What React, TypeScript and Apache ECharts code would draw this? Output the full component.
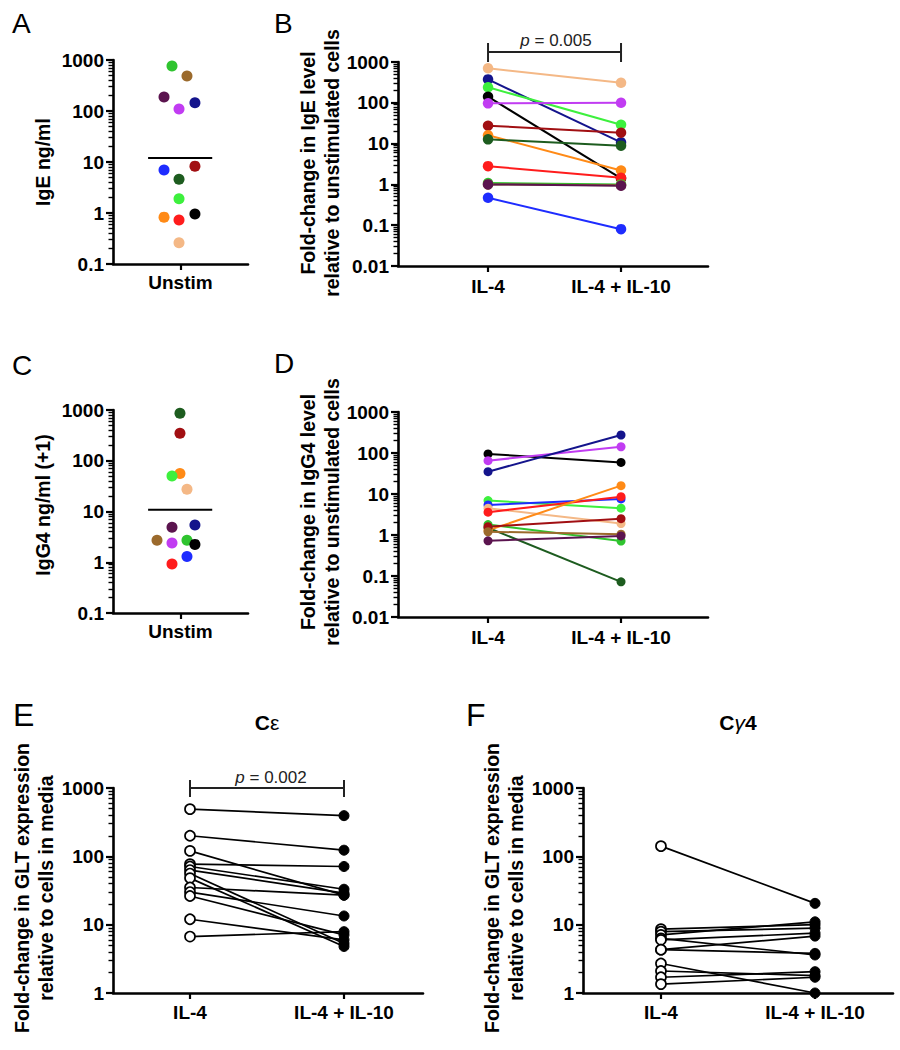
import React, { useEffect, useRef } from 'react';
import * as echarts from 'echarts';

const FONT = "'Liberation Sans', Arial, Helvetica, sans-serif";

const COLOR: Record<string, string> = {
  peach: '#f4b886',
  navy: '#14148c',
  lime: '#3df03d',
  green: '#2fc42f',
  black: '#000000',
  purple: '#c13cf2',
  dkred: '#a10f12',
  orange: '#ff8a16',
  dkgreen: '#1d5c1f',
  red: '#ff1c1c',
  dkpurple: '#5b144f',
  blue: '#1e2cff',
  brown: '#9b6a2c',
};

// ---- Panel A: IgE ng/ml, unstimulated ----
const aDonors = ['green', 'brown', 'dkpurple', 'purple', 'navy', 'blue', 'dkred', 'dkgreen', 'lime', 'orange', 'red', 'black', 'peach'];
const aIgE = [760, 485, 188, 110, 145, 7.0, 8.3, 4.6, 1.9, 0.83, 0.73, 0.96, 0.26];
const aJitter = [0.437, 0.548, 0.378, 0.489, 0.607, 0.378, 0.607, 0.489, 0.489, 0.378, 0.489, 0.607, 0.489];
const aMean = 12;

// ---- Panel C: IgG4 ng/ml (+1), unstimulated ----
const cDonors = ['dkgreen', 'dkred', 'orange', 'lime', 'peach', 'dkpurple', 'navy', 'brown', 'purple', 'green', 'black', 'blue', 'red'];
const cIgG4 = [860, 347, 56, 50, 27.5, 4.9, 5.4, 2.7, 2.4, 2.7, 2.25, 1.3, 0.92];
const cJitter = [0.496, 0.496, 0.496, 0.437, 0.548, 0.437, 0.607, 0.326, 0.437, 0.548, 0.607, 0.548, 0.437];
const cMean = 10.8;

const meanSpan = [0.26, 0.735];
const unstimCategory = ['Unstim'];

// ---- Panel B: fold-change IgE ----
const pairCategories = ['IL-4', 'IL-4 + IL-10'];
const bDonors = ['peach', 'navy', 'lime', 'black', 'purple', 'dkred', 'orange', 'dkgreen', 'red', 'green', 'brown', 'dkpurple', 'blue'];
const bIL4 = [700, 375, 240, 141, 97, 27.5, 16, 12.7, 2.8, 1.08, 1.0, 1.0, 0.47];
const bIL4IL10 = [310, 10.7, 29, 1.4, 100, 18.5, 2.2, 8.9, 1.45, 1.0, 0.95, 0.93, 0.08];
const bBracket = { low: 1000, bar: 1760, high: 2930 };

// ---- Panel D: fold-change IgG4 ----
const dDonors = ['black', 'purple', 'navy', 'lime', 'blue', 'peach', 'red', 'green', 'dkgreen', 'orange', 'dkred', 'brown', 'dkpurple'];
const dIL4 = [95, 65, 35, 6.9, 5.4, 4.5, 3.6, 1.8, 1.5, 1.3, 1.6, 1.2, 0.72];
const dIL4IL10 = [59, 142, 275, 4.5, 7.6, 1.9, 8.6, 0.71, 0.072, 16, 2.5, 1.05, 0.95];

// ---- Panel E: GLT C-epsilon ----
const eIL4 = [490, 200, 120, 77, 71, 63, 56, 48, 35, 30, 26.3, 12, 6.7];
const eIL4IL10 = [394, 123, 27, 71, 33, 29, 5.3, 4.8, 27, 13.4, 7.1, 6, 7.9];
const eBracket = { low: 738, bar: 1000, high: 1310 };

// ---- Panel F: GLT C-gamma4 ----
const fIL4 = [141, 8.6, 7.9, 7.1, 6.3, 6.0, 4.3, 4.3, 2.7, 2.1, 1.7, 1.35];
const fIL4IL10 = [20.5, 10, 8.9, 11, 3.6, 7.5, 3.8, 6.8, 1.0, 1.8, 2.05, 1.7];

const AXIS_W = 2.6;

function minorVals(min: number, max: number): number[] {
  const out: number[] = [];
  const lo = Math.round(Math.log10(min));
  const hi = Math.round(Math.log10(max));
  for (let d = lo; d < hi; d++) {
    for (let k = 2; k <= 9; k++) out.push(Math.log10(k) + d);
  }
  return out;
}

function yAxes(grid: number, min: number, max: number) {
  return [
    {
      type: 'log',
      logBase: 10,
      gridIndex: grid,
      position: 'left',
      min,
      max,
      axisLine: { show: true, onZero: false, lineStyle: { color: '#000', width: AXIS_W } },
      axisTick: { show: true, length: 7, lineStyle: { color: '#000', width: 2.2 } },
      axisLabel: {
        color: '#000',
        fontFamily: FONT,
        fontWeight: 'bold',
        fontSize: 19,
        margin: 9,
        formatter: (v: number) => String(parseFloat(Number(v).toPrecision(2))),
      },
      splitLine: { show: false },
    },
    {
      type: 'value',
      gridIndex: grid,
      position: 'left',
      offset: 0,
      min: Math.log10(min),
      max: Math.log10(max),
      axisLine: { show: false, onZero: false },
      axisLabel: { show: false },
      splitLine: { show: false },
      axisTick: {
        show: true,
        length: 4.5,
        customValues: minorVals(min, max),
        lineStyle: { color: '#000', width: 1.4 },
      },
    },
  ];
}

function xAxis(grid: number, min: number, max: number, ticks: number[], labels: string[], margin: number) {
  return {
    type: 'value',
    gridIndex: grid,
    position: 'bottom',
    min,
    max,
    axisLine: { show: true, onZero: false, lineStyle: { color: '#000', width: AXIS_W } },
    axisTick: { show: true, length: 6, customValues: ticks, lineStyle: { color: '#000', width: 2.2 } },
    axisLabel: {
      show: true,
      customValues: ticks,
      color: '#000',
      fontFamily: FONT,
      fontWeight: 'bold',
      fontSize: 19,
      margin,
      formatter: (v: number) => {
        const i = ticks.findIndex((t) => Math.abs(t - v) < 1e-6);
        return i >= 0 ? labels[i] : '';
      },
    },
    splitLine: { show: false },
  };
}

function scatterSeries(grid: number, donors: string[], vals: number[], jitter: number[]) {
  return {
    type: 'scatter',
    xAxisIndex: grid,
    yAxisIndex: grid * 2,
    symbolSize: 11,
    silent: true,
    itemStyle: { opacity: 1 },
    data: vals.map((v, i) => ({ value: [jitter[i], v], itemStyle: { color: COLOR[donors[i]], opacity: 1 } })),
  };
}

function meanSeries(grid: number, mean: number) {
  return {
    type: 'line',
    xAxisIndex: grid,
    yAxisIndex: grid * 2,
    symbol: 'none',
    silent: true,
    lineStyle: { color: '#000', width: 2 },
    data: meanSpan.map((x) => [x, mean]),
  };
}

function colorPairs(grid: number, donors: string[], a: number[], b: number[], size: number) {
  return donors.map((d, i) => ({
    type: 'line',
    xAxisIndex: grid,
    yAxisIndex: grid * 2,
    symbol: 'circle',
    symbolSize: size,
    showSymbol: true,
    silent: true,
    itemStyle: { color: COLOR[d] },
    lineStyle: { color: COLOR[d], width: 2 },
    data: [
      [0, a[i]],
      [1, b[i]],
    ],
  }));
}

function blackPairs(grid: number, a: number[], b: number[]) {
  return a.map((v, i) => ({
    type: 'line',
    xAxisIndex: grid,
    yAxisIndex: grid * 2,
    symbol: 'circle',
    symbolSize: 10,
    showSymbol: true,
    silent: true,
    lineStyle: { color: '#000', width: 1.7 },
    itemStyle: { color: '#000' },
    data: [
      { value: [0, v], itemStyle: { color: '#fff', borderColor: '#000', borderWidth: 1.7 } },
      { value: [1, b[i]], itemStyle: { color: '#000', borderColor: '#000', borderWidth: 1 } },
    ],
  }));
}

function bracket(grid: number, br: { low: number; bar: number; high: number }) {
  return {
    type: 'line',
    xAxisIndex: grid,
    yAxisIndex: grid * 2,
    symbol: 'none',
    clip: false,
    silent: true,
    lineStyle: { color: '#222', width: 2 },
    data: [
      [0, br.high],
      [0, br.low],
      [0, br.bar],
      [1, br.bar],
      [1, br.high],
      [1, br.low],
    ],
  };
}

function panelLetter(text: string, x: number, y: number, size: number) {
  return {
    type: 'text',
    x,
    y,
    silent: true,
    style: { text, fontFamily: FONT, fontSize: size, fill: '#000', align: 'left', verticalAlign: 'middle' },
  };
}

function yTitle(text: string, x: number, y: number) {
  return {
    type: 'text',
    x,
    y,
    rotation: Math.PI / 2,
    silent: true,
    style: {
      text,
      fontFamily: FONT,
      fontWeight: 'bold',
      fontSize: 19.5,
      lineHeight: 24,
      fill: '#000',
      align: 'center',
      verticalAlign: 'middle',
    },
  };
}

function pText(text: string, x: number, y: number) {
  return {
    type: 'text',
    x,
    y,
    silent: true,
    style: {
      text: `{i|p} = ${text}`,
      fontFamily: FONT,
      fontSize: 17,
      fill: '#222',
      align: 'center',
      verticalAlign: 'middle',
      rich: { i: { fontStyle: 'italic', fontFamily: FONT, fontSize: 17, fill: '#222' } },
    },
  };
}

export default function App() {
  const ref = useRef<HTMLDivElement>(null);

  useEffect(() => {
    if (!ref.current) return;
    const chart = echarts.init(ref.current, undefined, { renderer: 'svg' });

    const grids = [
      { left: 113, top: 60, width: 135, height: 204 },
      { left: 398, top: 62, width: 310, height: 204 },
      { left: 113, top: 410, width: 135, height: 203 },
      { left: 398, top: 412, width: 310, height: 205 },
      { left: 113, top: 788, width: 310, height: 205 },
      { left: 583, top: 788, width: 310, height: 205 },
    ];

    const xAxes = [
      xAxis(0, 0, 1, [0.5], unstimCategory, 9),
      xAxis(1, -0.677, 1.654, [0, 1], pairCategories, 11),
      xAxis(2, 0, 1, [0.5], unstimCategory, 9),
      xAxis(3, -0.677, 1.654, [0, 1], pairCategories, 11),
      xAxis(4, -0.5, 1.513, [0, 1], pairCategories, 10),
      xAxis(5, -0.506, 1.506, [0, 1], pairCategories, 10),
    ];

    const yAx = [
      ...yAxes(0, 0.1, 1000),
      ...yAxes(1, 0.01, 1000),
      ...yAxes(2, 0.1, 1000),
      ...yAxes(3, 0.01, 1000),
      ...yAxes(4, 1, 1000),
      ...yAxes(5, 1, 1000),
    ];

    const series: any[] = [
      scatterSeries(0, aDonors, aIgE, aJitter),
      meanSeries(0, aMean),
      bracket(1, bBracket),
      ...colorPairs(1, bDonors, bIL4, bIL4IL10, 10.5),
      scatterSeries(2, cDonors, cIgG4, cJitter),
      meanSeries(2, cMean),
      ...colorPairs(3, dDonors, dIL4, dIL4IL10, 9),
      bracket(4, eBracket),
      ...blackPairs(4, eIL4, eIL4IL10),
      ...blackPairs(5, fIL4, fIL4IL10),
    ];

    const graphic = [
      panelLetter('A', 12, 23, 28),
      panelLetter('B', 274, 23, 28),
      panelLetter('C', 12, 365, 28),
      panelLetter('D', 274, 363, 28),
      panelLetter('E', 13, 715, 32),
      panelLetter('F', 466, 715, 32),
      yTitle('IgE ng/ml', 43, 162),
      yTitle('Fold-change in IgE level\nrelative to unstimulated cells', 320, 163),
      yTitle('IgG4 ng/ml (+1)', 43, 505),
      yTitle('Fold-change in IgG4 level\nrelative to unstimulated cells', 320, 512),
      yTitle('Fold-change in GLT expression\nrelative to cells in media', 34, 888),
      yTitle('Fold-change in GLT expression\nrelative to cells in media', 504, 888),
      pText('0.005', 556, 40),
      pText('0.002', 271, 777),
      {
        type: 'text',
        x: 267,
        y: 722,
        silent: true,
        style: {
          text: '{b|C}{n|ε}',
          align: 'center',
          verticalAlign: 'middle',
          fill: '#000',
          rich: {
            b: { fontFamily: FONT, fontWeight: 'bold', fontSize: 21, fill: '#000' },
            n: { fontFamily: FONT, fontSize: 21, fill: '#000' },
          },
        },
      },
      {
        type: 'text',
        x: 738,
        y: 722,
        silent: true,
        style: {
          text: '{b|C}{g|γ}{b|4}',
          align: 'center',
          verticalAlign: 'middle',
          fill: '#000',
          rich: {
            b: { fontFamily: FONT, fontWeight: 'bold', fontSize: 21, fill: '#000' },
            g: { fontFamily: FONT, fontStyle: 'italic', fontSize: 21, fill: '#000' },
          },
        },
      },
    ];

    chart.setOption({
      animation: false,
      backgroundColor: '#ffffff',
      textStyle: { fontFamily: FONT },
      grid: grids,
      xAxis: xAxes,
      yAxis: yAx,
      series,
      graphic,
    });

    return () => {
      chart.dispose();
    };
  }, []);

  return (
    <div
      ref={ref}
      style={{ position: 'absolute', left: 0, top: 0, width: 900, height: 1050, background: '#fff' }}
    />
  );
}
